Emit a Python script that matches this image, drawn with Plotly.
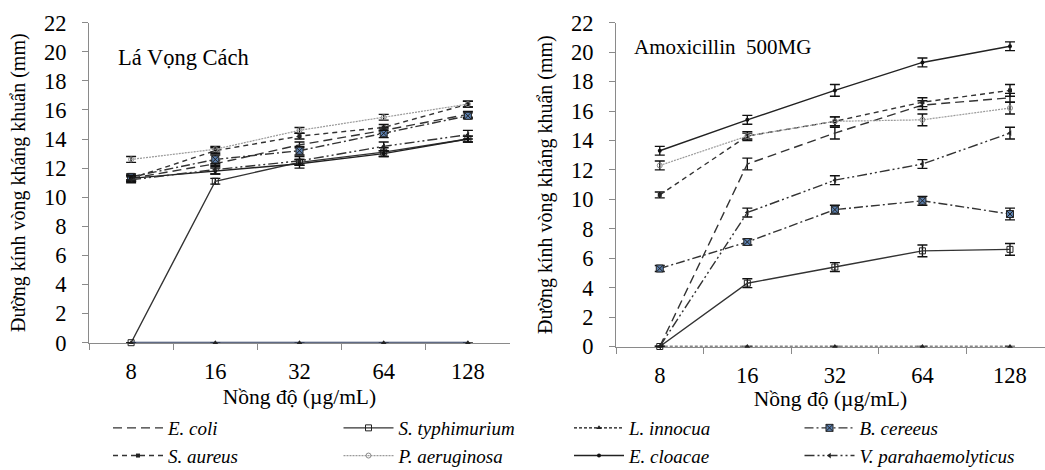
import plotly.graph_objects as go

conc = ["8", "16", "32", "64", "128"]

species = ["E. coli", "S. typhimurium", "L. innocua", "B. cereeus",
           "S. aureus", "P. aeruginosa", "E. cloacae", "V. parahaemolyticus"]

# Left panel: Lá Vọng Cách
left_ecoli = [11.3, 12.3, 13.6, 14.6, 15.7]
left_styph = [0.0, 11.1, 12.4, 13.1, 14.0]
left_linn = [0.0, 0.0, 0.0, 0.0, 0.0]
left_bcer = [11.4, 12.6, 13.2, 14.4, 15.6]
left_saur = [11.3, 13.2, 14.2, 14.8, 16.4]
left_paer = [12.6, 13.3, 14.6, 15.5, 16.4]
left_eclo = [11.3, 11.8, 12.3, 13.0, 14.0]
left_vpar = [11.2, 11.9, 12.5, 13.5, 14.3]

left_err_ecoli = [0.2, 0.2, 0.2, 0.2, 0.2]
left_err_styph = [0.0, 0.2, 0.2, 0.3, 0.2]
left_err_linn = [0.0, 0.0, 0.0, 0.0, 0.0]
left_err_bcer = [0.2, 0.3, 0.3, 0.3, 0.2]
left_err_saur = [0.2, 0.2, 0.2, 0.2, 0.2]
left_err_paer = [0.2, 0.2, 0.2, 0.2, 0.2]
left_err_eclo = [0.2, 0.2, 0.3, 0.2, 0.2]
left_err_vpar = [0.2, 0.3, 0.3, 0.3, 0.3]

# Right panel: Amoxicillin 500MG
right_ecoli = [0.0, 12.4, 14.5, 16.4, 16.9]
right_styph = [0.0, 4.3, 5.4, 6.5, 6.6]
right_linn = [0.0, 0.0, 0.0, 0.0, 0.0]
right_bcer = [5.3, 7.1, 9.3, 9.9, 9.0]
right_saur = [10.3, 14.3, 15.3, 16.6, 17.4]
right_paer = [12.3, 14.3, 15.3, 15.4, 16.2]
right_eclo = [13.3, 15.4, 17.4, 19.3, 20.4]
right_vpar = [0.0, 9.1, 11.3, 12.4, 14.5]

right_err_ecoli = [0.0, 0.4, 0.4, 0.3, 0.3]
right_err_styph = [0.0, 0.3, 0.3, 0.4, 0.4]
right_err_linn = [0.0, 0.0, 0.0, 0.0, 0.0]
right_err_bcer = [0.2, 0.2, 0.3, 0.3, 0.4]
right_err_saur = [0.2, 0.2, 0.3, 0.3, 0.4]
right_err_paer = [0.3, 0.3, 0.3, 0.4, 0.4]
right_err_eclo = [0.3, 0.3, 0.4, 0.3, 0.3]
right_err_vpar = [0.0, 0.3, 0.3, 0.3, 0.4]

left_vals = [left_ecoli, left_styph, left_linn, left_bcer, left_saur, left_paer, left_eclo, left_vpar]
left_errs = [left_err_ecoli, left_err_styph, left_err_linn, left_err_bcer, left_err_saur,
             left_err_paer, left_err_eclo, left_err_vpar]
right_vals = [right_ecoli, right_styph, right_linn, right_bcer, right_saur, right_paer, right_eclo, right_vpar]
right_errs = [right_err_ecoli, right_err_styph, right_err_linn, right_err_bcer, right_err_saur,
              right_err_paer, right_err_eclo, right_err_vpar]

styles = [
    dict(color="#333333", dash="9px,5px", symbol="line-ew", msize=6, mcolor="#222222", width=1.4),
    dict(color="#333333", dash="solid", symbol="square-open", msize=6, mcolor="#222222", width=1.4),
    dict(color="#111111", dash="3px,2px", symbol="triangle-up", msize=5, mcolor="#222222", width=1.3),
    dict(color="#333333", dash="9px,3px,2px,3px", symbol="square-x", msize=7, mcolor="#5b80b0", width=1.4),
    dict(color="#333333", dash="5px,4px", symbol="square", msize=4, mcolor="#222222", width=1.4),
    dict(color="#9a9a9a", dash="2px,1px", symbol="circle-open", msize=5, mcolor="#888888", width=1.2),
    dict(color="#222222", dash="solid", symbol="circle", msize=4, mcolor="#111111", width=1.4),
    dict(color="#333333", dash="10px,3px,2px,3px,2px,3px", symbol="triangle-left", msize=5, mcolor="#222222", width=1.4),
]

fig = go.Figure()

for panel, (vals_list, errs_list, xa, ya) in enumerate(
        [(left_vals, left_errs, "x", "y"), (right_vals, right_errs, "x2", "y2")]):
    for i, name in enumerate(species):
        st = styles[i]
        color = st["color"]
        dash = st["dash"]
        width = st["width"]
        if panel == 0 and i == 2:
            color = "#2b3a5c"
            dash = "solid"
            width = 2.0
        marker = dict(symbol=st["symbol"], size=st["msize"], color=st["mcolor"])
        if st["symbol"] == "square-x":
            marker["line"] = dict(color="#222222", width=1)
        fig.add_trace(go.Scatter(
            x=conc, y=vals_list[i], xaxis=xa, yaxis=ya,
            mode="lines+markers",
            name="<i>" + name + "</i>",
            legendgroup=name,
            showlegend=(panel == 1),
            cliponaxis=False,
            line=dict(color=color, dash=dash, width=width),
            marker=marker,
            error_y=dict(type="data", array=errs_list[i], visible=True,
                         color="#111111", thickness=1.4, width=5),
        ))

tick_font = dict(family="Liberation Serif", size=22.5, color="#000000")
xtitle_font = dict(family="Liberation Serif", size=21.5, color="#000000")
ytitle_font = dict(family="Liberation Serif", size=20, color="#000000")
common_x = dict(type="category", showgrid=False, zeroline=False, showline=True,
                linecolor="#8a8a8a", linewidth=1, ticks="outside", ticklen=6,
                tickcolor="#8a8a8a", tickson="boundaries", tickfont=tick_font,
                ticklabelstandoff=8, automargin=False, layer="below traces")
common_y = dict(range=[0, 22], dtick=2, showgrid=False, zeroline=False, showline=True,
                linecolor="#8a8a8a", linewidth=1, ticks="outside", ticklen=6,
                tickcolor="#8a8a8a", tickfont=tick_font, ticklabelstandoff=11, automargin=False,
                layer="below traces")

fig.update_layout(
    width=1045, height=470,
    margin=dict(l=0, r=0, t=0, b=0, autoexpand=False),
    paper_bgcolor="white", plot_bgcolor="white",
    font=dict(family="Liberation Serif", color="#000000"),
    xaxis=dict(domain=[89 / 1045, 510 / 1045], range=[-0.5, 4.5], anchor="y",
               title=dict(text="Nồng độ (µg/mL)", font=xtitle_font, standoff=6), **common_x),
    yaxis=dict(domain=[(470 - 342.7) / 470, (470 - 22.7) / 470], anchor="x",
               title=dict(text="Đường kính vòng kháng khuẩn (mm)", font=ytitle_font,
                          standoff=12), **common_y),
    xaxis2=dict(domain=[616 / 1045, 1.0], range=[-0.5, 4.4], anchor="y2",
                title=dict(text="Nồng độ (µg/mL)", font=xtitle_font, standoff=4), **common_x),
    yaxis2=dict(domain=[(470 - 346.5) / 470, (470 - 22.7) / 470], anchor="x2",
                title=dict(text="Đường kính vòng kháng khuẩn (mm)", font=ytitle_font,
                           standoff=12), **common_y),
    legend=dict(orientation="h", x=108 / 1045, y=(470 - 409) / 470, xanchor="left", yanchor="top",
                entrywidth=165.5, entrywidthmode="pixels", itemwidth=50,
                font=dict(family="Liberation Serif", size=19, color="#000000"),
                tracegroupgap=0, bgcolor="rgba(0,0,0,0)"),
    annotations=[
        dict(text="Lá Vọng Cách", xref="paper", yref="paper", x=116 / 1045, y=(470 - 58) / 470,
             xanchor="left", yanchor="middle", showarrow=False,
             font=dict(family="Liberation Serif", size=22.5, color="#000000")),
        dict(text="Amoxicillin\u00a0 500MG", xref="paper", yref="paper", x=632 / 1045, y=(470 - 47) / 470,
             xanchor="left", yanchor="middle", showarrow=False,
             font=dict(family="Liberation Serif", size=21, color="#000000")),
    ],
)

fig.write_html("out.html", config={"displayModeBar": False},
               post_script="document.body.style.margin='0';")
